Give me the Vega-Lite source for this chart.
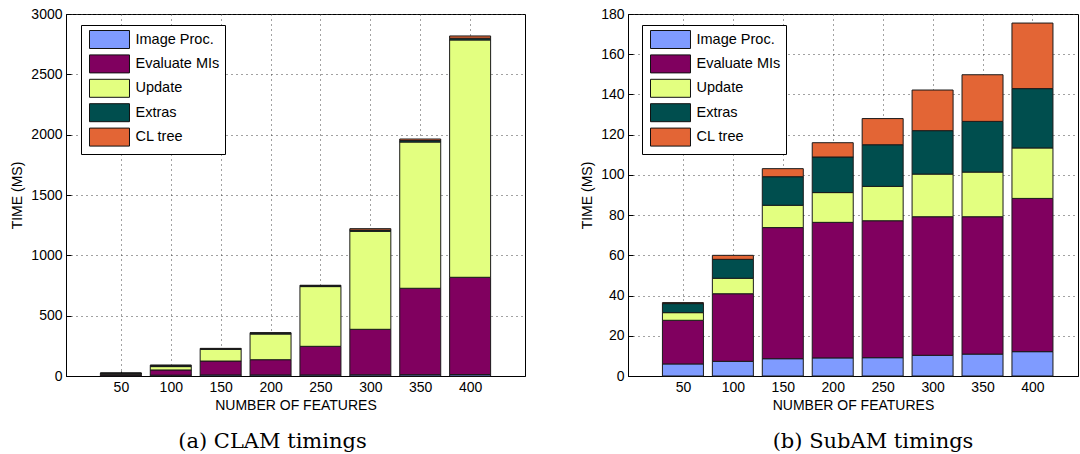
{
  "$schema": "https://vega.github.io/schema/vega-lite/v6.json",
  "padding": {"left": 10, "top": 6, "right": 0, "bottom": 0},
  "spacing": 54,
  "config": {
    "view": {"stroke": "black", "strokeWidth": 1},
    "font": "Liberation Sans",
    "axis": {
      "labelFont": "Liberation Sans", "labelFontSize": 14, "labelColor": "black",
      "titleFont": "Liberation Sans", "titleFontSize": 14, "titleFontWeight": "normal", "titleColor": "black",
      "domainColor": "black", "tickColor": "black", "tickSize": -5, "labelPadding": 9,
      "gridColor": "#444", "gridDash": [1, 4], "gridOpacity": 1, "gridWidth": 1, "format": "d"
    },
    "legend": {
      "fillColor": "white", "strokeColor": "black", "strokeWidth": 1, "padding": 5, "cornerRadius": 0,
      "labelFont": "Liberation Sans", "labelFontSize": 14.5, "labelColor": "black",
      "labelExpr": "datum.label + '\u00a0\u00a0\u00a0\u00a0\u00a0'",
      "symbolType": "M-2.222,-1H2.222V1H-2.222Z", "symbolSize": 324,
      "symbolStrokeColor": "#111", "symbolStrokeWidth": 1, "symbolOpacity": 1,
      "rowPadding": 1.4, "labelOffset": 16.5, "symbolOffset": 14
    },
    "title": {"font": "DejaVu Serif", "fontSize": 21, "fontWeight": "normal", "color": "black"}
  },
  "datasets": {
    "clam": [
      {"n": 50, "part": "Image Proc.", "k": 1, "t": 5}, {"n": 50, "part": "Evaluate MIs", "k": 2, "t": 10}, {"n": 50, "part": "Update", "k": 3, "t": 4}, {"n": 50, "part": "Extras", "k": 4, "t": 5}, {"n": 50, "part": "CL tree", "k": 5, "t": 1},
      {"n": 100, "part": "Image Proc.", "k": 1, "t": 7}, {"n": 100, "part": "Evaluate MIs", "k": 2, "t": 43}, {"n": 100, "part": "Update", "k": 3, "t": 28}, {"n": 100, "part": "Extras", "k": 4, "t": 10}, {"n": 100, "part": "CL tree", "k": 5, "t": 2},
      {"n": 150, "part": "Image Proc.", "k": 1, "t": 9}, {"n": 150, "part": "Evaluate MIs", "k": 2, "t": 115}, {"n": 150, "part": "Update", "k": 3, "t": 97}, {"n": 150, "part": "Extras", "k": 4, "t": 5}, {"n": 150, "part": "CL tree", "k": 5, "t": 3},
      {"n": 200, "part": "Image Proc.", "k": 1, "t": 9}, {"n": 200, "part": "Evaluate MIs", "k": 2, "t": 126}, {"n": 200, "part": "Update", "k": 3, "t": 213}, {"n": 200, "part": "Extras", "k": 4, "t": 8}, {"n": 200, "part": "CL tree", "k": 5, "t": 3},
      {"n": 250, "part": "Image Proc.", "k": 1, "t": 9}, {"n": 250, "part": "Evaluate MIs", "k": 2, "t": 237}, {"n": 250, "part": "Update", "k": 3, "t": 495}, {"n": 250, "part": "Extras", "k": 4, "t": 8}, {"n": 250, "part": "CL tree", "k": 5, "t": 3},
      {"n": 300, "part": "Image Proc.", "k": 1, "t": 10}, {"n": 300, "part": "Evaluate MIs", "k": 2, "t": 377}, {"n": 300, "part": "Update", "k": 3, "t": 812}, {"n": 300, "part": "Extras", "k": 4, "t": 10}, {"n": 300, "part": "CL tree", "k": 5, "t": 12},
      {"n": 350, "part": "Image Proc.", "k": 1, "t": 11}, {"n": 350, "part": "Evaluate MIs", "k": 2, "t": 716}, {"n": 350, "part": "Update", "k": 3, "t": 1212}, {"n": 350, "part": "Extras", "k": 4, "t": 12}, {"n": 350, "part": "CL tree", "k": 5, "t": 13},
      {"n": 400, "part": "Image Proc.", "k": 1, "t": 12}, {"n": 400, "part": "Evaluate MIs", "k": 2, "t": 806}, {"n": 400, "part": "Update", "k": 3, "t": 1967}, {"n": 400, "part": "Extras", "k": 4, "t": 14}, {"n": 400, "part": "CL tree", "k": 5, "t": 19}
    ],
    "subam": [
      {"n": 50, "part": "Image Proc.", "k": 1, "t": 6.0}, {"n": 50, "part": "Evaluate MIs", "k": 2, "t": 21.7}, {"n": 50, "part": "Update", "k": 3, "t": 3.8}, {"n": 50, "part": "Extras", "k": 4, "t": 4.5}, {"n": 50, "part": "CL tree", "k": 5, "t": 0.5},
      {"n": 100, "part": "Image Proc.", "k": 1, "t": 7.3}, {"n": 100, "part": "Evaluate MIs", "k": 2, "t": 33.6}, {"n": 100, "part": "Update", "k": 3, "t": 7.7}, {"n": 100, "part": "Extras", "k": 4, "t": 9.4}, {"n": 100, "part": "CL tree", "k": 5, "t": 2.0},
      {"n": 150, "part": "Image Proc.", "k": 1, "t": 8.6}, {"n": 150, "part": "Evaluate MIs", "k": 2, "t": 65.2}, {"n": 150, "part": "Update", "k": 3, "t": 11.1}, {"n": 150, "part": "Extras", "k": 4, "t": 14.2}, {"n": 150, "part": "CL tree", "k": 5, "t": 4.0},
      {"n": 200, "part": "Image Proc.", "k": 1, "t": 9.0}, {"n": 200, "part": "Evaluate MIs", "k": 2, "t": 67.4}, {"n": 200, "part": "Update", "k": 3, "t": 14.8}, {"n": 200, "part": "Extras", "k": 4, "t": 17.7}, {"n": 200, "part": "CL tree", "k": 5, "t": 7.1},
      {"n": 250, "part": "Image Proc.", "k": 1, "t": 9.1}, {"n": 250, "part": "Evaluate MIs", "k": 2, "t": 68.1}, {"n": 250, "part": "Update", "k": 3, "t": 17.1}, {"n": 250, "part": "Extras", "k": 4, "t": 20.7}, {"n": 250, "part": "CL tree", "k": 5, "t": 13.0},
      {"n": 300, "part": "Image Proc.", "k": 1, "t": 10.3}, {"n": 300, "part": "Evaluate MIs", "k": 2, "t": 68.9}, {"n": 300, "part": "Update", "k": 3, "t": 21.2}, {"n": 300, "part": "Extras", "k": 4, "t": 21.6}, {"n": 300, "part": "CL tree", "k": 5, "t": 20.2},
      {"n": 350, "part": "Image Proc.", "k": 1, "t": 10.9}, {"n": 350, "part": "Evaluate MIs", "k": 2, "t": 68.3}, {"n": 350, "part": "Update", "k": 3, "t": 22.2}, {"n": 350, "part": "Extras", "k": 4, "t": 25.2}, {"n": 350, "part": "CL tree", "k": 5, "t": 23.2},
      {"n": 400, "part": "Image Proc.", "k": 1, "t": 12.1}, {"n": 400, "part": "Evaluate MIs", "k": 2, "t": 76.2}, {"n": 400, "part": "Update", "k": 3, "t": 25.1}, {"n": 400, "part": "Extras", "k": 4, "t": 29.5}, {"n": 400, "part": "CL tree", "k": 5, "t": 32.6}
    ]
  },
  "hconcat": [
    {
      "width": 459, "height": 362,
      "title": {"text": "(a) CLAM timings", "orient": "bottom", "anchor": "middle", "dx": -23, "offset": 19},
      "data": {"name": "clam"},
      "mark": {"type": "bar", "width": 41, "stroke": "#1a1a1a", "strokeWidth": 1},
      "encoding": {
        "x": {"field": "n", "type": "quantitative", "scale": {"domain": [0, 450], "nice": false, "zero": false},
              "axis": {"values": [50, 100, 150, 200, 250, 300, 350, 400], "title": "NUMBER OF FEATURES", "titlePadding": 4}},
        "y": {"field": "t", "type": "quantitative", "stack": "zero", "scale": {"domain": [0, 3000], "nice": false},
              "axis": {"values": [0, 500, 1000, 1500, 2000, 2500, 3000], "title": "TIME (MS)", "titlePadding": 6}},
        "color": {"field": "part", "type": "nominal",
                  "scale": {"domain": ["Image Proc.", "Evaluate MIs", "Update", "Extras", "CL tree"], "range": ["#7f9bff", "#80005f", "#e3ff80", "#004e4e", "#e36535"]},
                  "legend": {"orient": "none", "legendX": 15, "legendY": 11, "title": null}},
        "order": {"field": "k", "type": "quantitative"}
      }
    },
    {
      "width": 450, "height": 362,
      "title": {"text": "(b) SubAM timings", "orient": "bottom", "anchor": "middle", "dx": 20, "offset": 19},
      "data": {"name": "subam"},
      "mark": {"type": "bar", "width": 41, "stroke": "#1a1a1a", "strokeWidth": 1},
      "encoding": {
        "x": {"field": "n", "type": "quantitative", "scale": {"domain": [0, 440.6], "nice": false, "zero": false},
              "axis": {"values": [50, 100, 150, 200, 250, 300, 350, 400], "title": "NUMBER OF FEATURES", "titlePadding": 4}},
        "y": {"field": "t", "type": "quantitative", "stack": "zero", "scale": {"domain": [0, 180], "nice": false},
              "axis": {"values": [0, 20, 40, 60, 80, 100, 120, 140, 160, 180], "title": "TIME (MS)", "titlePadding": 6}},
        "color": {"field": "part", "type": "nominal",
                  "scale": {"domain": ["Image Proc.", "Evaluate MIs", "Update", "Extras", "CL tree"], "range": ["#7f9bff", "#80005f", "#e3ff80", "#004e4e", "#e36535"]},
                  "legend": {"orient": "none", "legendX": 14, "legendY": 11, "title": null}},
        "order": {"field": "k", "type": "quantitative"}
      }
    }
  ],
  "resolve": {"legend": {"color": "independent"}, "scale": {"color": "independent"}}
}
